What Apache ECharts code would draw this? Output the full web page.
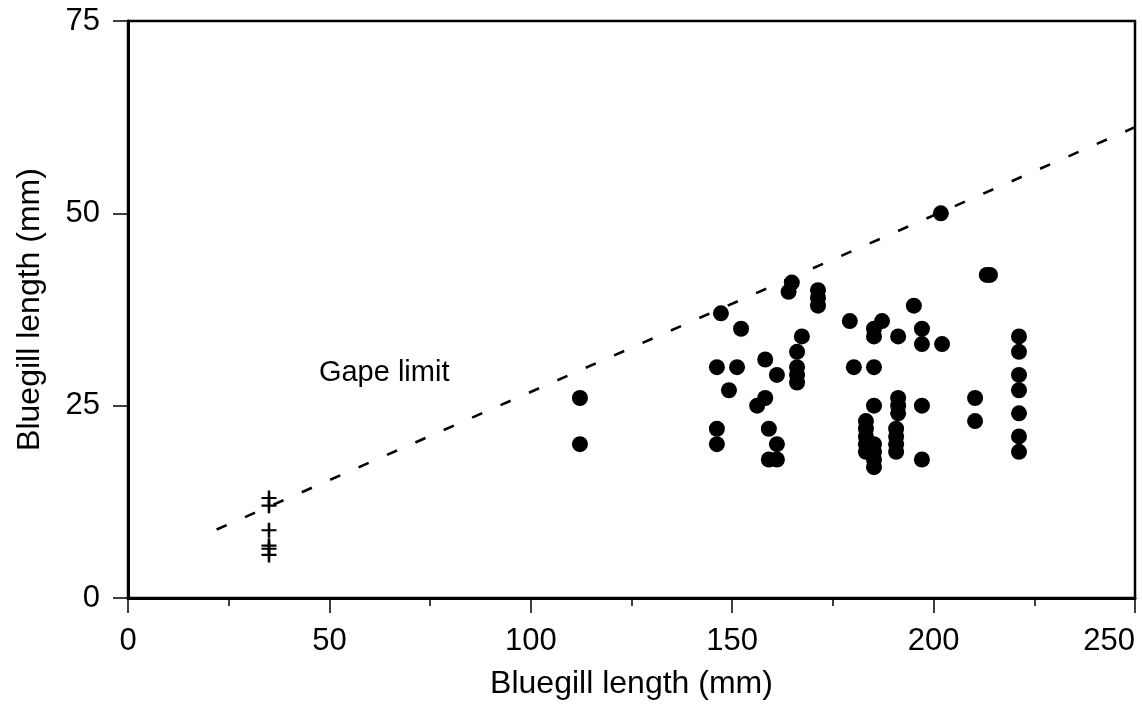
<!DOCTYPE html>
<html>
<head>
<meta charset="utf-8">
<script src="https://cdn.jsdelivr.net/npm/echarts@6/dist/echarts.min.js"></script>
<style>
html,body{margin:0;padding:0;background:#fff;}
#chart{width:1142px;height:709px;}
</style>
</head>
<body>
<div id="chart"></div>
<script>
// Prey (filled circles): [predator length, prey length]
var preyPoints = [
  [112.2,26],[112.2,20],
  [146.2,30],[146.2,22],[146.2,20],
  [147.2,37],[149.2,27],[151.2,30],[152.2,35],[156.2,25],
  [158.2,31],[158.2,26],[159.1,22],[159.1,18],
  [161.1,18],[161.1,20],[161.1,29],
  [164.0,39.8],[164.8,41],
  [166.1,32],[166.1,30],[166.1,29],[166.1,28],[167.3,34],
  [171.3,40],[171.3,39],[171.3,38],
  [179.2,36],[180.2,30],
  [183.2,23],[183.2,22],[183.2,21],[183.2,20],[183.2,19],
  [185.2,35],[185.2,34],[185.2,30],[185.2,25],[185.2,20],[185.2,19],[185.2,18],[185.2,17],
  [187.2,36],
  [191.2,26],[191.2,25],[191.2,24],[191.2,34],
  [190.7,22],[190.7,21],[190.7,20],[190.7,19],
  [195.1,38],
  [197.1,35],[197.1,33],[197.1,25],[197.1,18],
  [201.8,50],[202.1,33],
  [210.3,26],[210.3,23],
  [213.2,42],[214.0,42],
  [221.2,34],[221.2,32],[221.2,29],[221.2,27],[221.2,24],[221.2,21],[221.2,19]
];
// Small fish (crosses)
var crossPoints = [[35,13],[35,12],[35,8.8],[35,6.8],[35,6.4],[35,5.6]];
// Gape limit line endpoints
var gapeLine = [[22,8.9],[250,61.2]];
var gapeLabel = [[47.4,29.2]];
var xTicks = {min:0, max:250, interval:50};
var yTicks = {min:0, max:75, interval:25};
var xTitle = 'Bluegill length (mm)';
var yTitle = 'Bluegill length (mm)';

var FONT = '"Liberation Sans", Arial, sans-serif';
var chart = echarts.init(document.getElementById('chart'), null, {renderer:'canvas'});
chart.setOption({
  animation:false,
  backgroundColor:'#fff',
  grid:{left:128, right:7, top:21, bottom:111, containLabel:false, outerBoundsMode:'none',
    show:true, borderColor:'#000', borderWidth:2.5, backgroundColor:'transparent'},
  xAxis:{
    type:'value', min:xTicks.min, max:xTicks.max, interval:xTicks.interval,
    name:xTitle, nameLocation:'middle', nameGap:70,
    nameTextStyle:{fontFamily:FONT, fontSize:32, color:'#000'},
    axisLine:{show:true, onZero:false, lineStyle:{color:'#000', width:3}},
    axisTick:{show:true, inside:false, length:15, lineStyle:{color:'#000', width:1.5}},
    minorTick:{show:true, splitNumber:2, length:8, lineStyle:{color:'#000', width:1.5}},
    axisLabel:{fontFamily:FONT, fontSize:31, color:'#000', margin:28, hideOverlap:false, alignMaxLabel:'right'},
    splitLine:{show:false}, minorSplitLine:{show:false}
  },
  yAxis:{
    type:'value', min:yTicks.min, max:yTicks.max, interval:yTicks.interval,
    name:yTitle, nameLocation:'middle', nameGap:82,
    nameTextStyle:{fontFamily:FONT, fontSize:32, color:'#000'},
    axisLine:{show:true, onZero:false, lineStyle:{color:'#000', width:3}},
    axisTick:{show:true, inside:false, length:15, lineStyle:{color:'#000', width:1.5}},
    axisLabel:{fontFamily:FONT, fontSize:31, color:'#000', margin:28},
    splitLine:{show:false}
  },
  series:[
    {
      type:'line', data:gapeLine, symbol:'none', silent:true,
      lineStyle:{color:'#000', width:2.6, type:[11,20], opacity:1}
    },
    {
      type:'scatter', data:preyPoints, symbol:'circle', symbolSize:16,
      itemStyle:{color:'#000', opacity:1}
    },
    {
      type:'scatter', data:crossPoints,
      symbol:'path://M-1.2,-7 L1.2,-7 L1.2,-1 L7,-1 L7,1 L1.2,1 L1.2,7 L-1.2,7 L-1.2,1 L-7,1 L-7,-1 L-1.2,-1 Z',
      symbolSize:15, itemStyle:{color:'#000', opacity:1}
    },
    {
      type:'scatter', data:gapeLabel, symbolSize:0, silent:true,
      itemStyle:{opacity:1},
      label:{show:true, position:'right', distance:0, formatter:'Gape limit',
        fontFamily:FONT, fontSize:29, color:'#000', opacity:1}
    }
  ]
});
</script>
</body>
</html>
